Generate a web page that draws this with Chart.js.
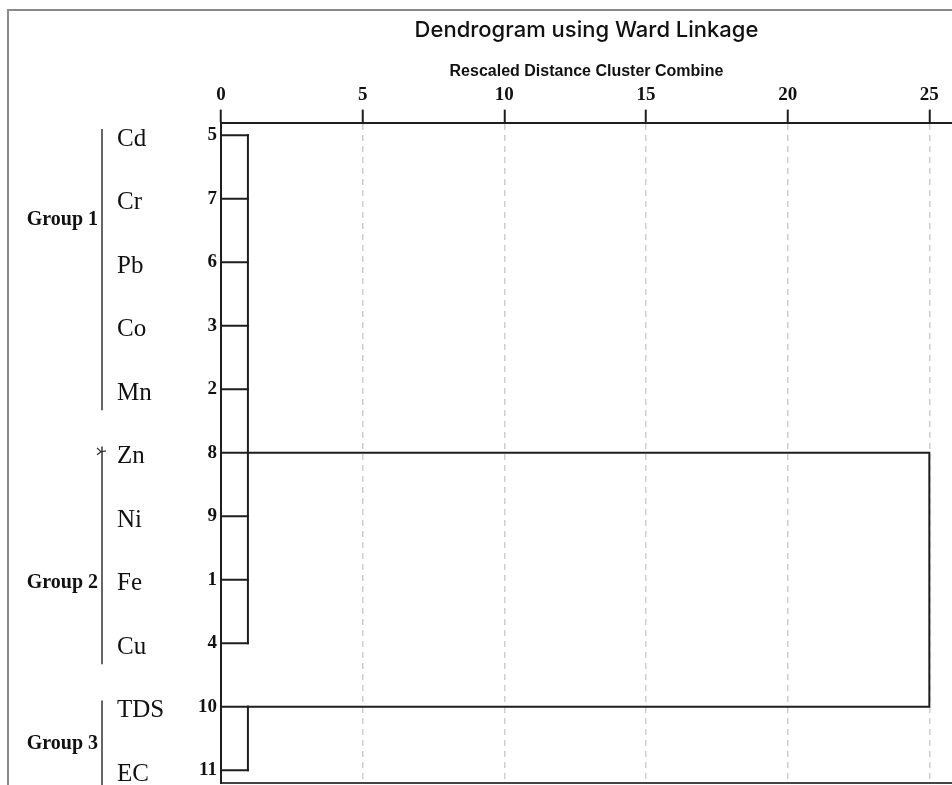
<!DOCTYPE html>
<html>
<head>
<meta charset="utf-8">
<script src="https://cdn.jsdelivr.net/npm/chart.js@4.4.1/dist/chart.umd.min.js"></script>
<style>
html, body { margin: 0; padding: 0; background: #fff; }
#wrap { width: 952px; height: 785px; }
</style>
</head>
<body>
<div id="wrap"><canvas id="dendro"></canvas></div>
<script>
// === leaves, top to bottom ===
const leafNames = ['Cd', 'Cr', 'Pb', 'Co', 'Mn', 'Zn', 'Ni', 'Fe', 'Cu', 'TDS', 'EC'];
const caseNumbers = [5, 7, 6, 3, 2, 8, 9, 1, 4, 10, 11];

// === first level clusters (rows) and rescaled distance where they join ===
const clusterFirstRow = [0, 9];
const clusterLastRow = [8, 10];
const clusterDistance = [0.95, 0.95];
const clusterLinkRow = [5, 9];     // row the cluster link leaves from
const rootDistance = 25;

// === groups marked on the left ===
const groupNames = ['Group 1', 'Group 2', 'Group 3'];
const groupFirstRow = [0, 5, 9];
const groupLastRow = [4, 8, 10];

const distanceTicks = [0, 5, 10, 15, 20, 25];

const SERIF = '"Liberation Serif", "Times New Roman", serif';
const SANS = '"Liberation Sans", Arial, sans-serif';
const INK = '#1e1e1e';

// build line pieces of the tree
const segments = [];
leafNames.forEach((name, i) => {
    const c = clusterFirstRow.findIndex((f, k) => i >= f && i <= clusterLastRow[k]);
    segments.push([{ x: 0, y: i }, { x: clusterDistance[c], y: i }]);
});
clusterFirstRow.forEach((f, k) => {
    segments.push([{ x: clusterDistance[k], y: f }, { x: clusterDistance[k], y: clusterLastRow[k] }]);
});
const lastK = clusterLinkRow.length - 1;
segments.push([
    { x: clusterDistance[0], y: clusterLinkRow[0] },
    { x: rootDistance, y: clusterLinkRow[0] },
    { x: rootDistance, y: clusterLinkRow[lastK] },
    { x: clusterDistance[lastK], y: clusterLinkRow[lastK] }
]);

const datasets = segments.map(pts => ({
    data: pts,
    showLine: true,
    pointRadius: 0,
    borderColor: INK,
    borderWidth: 2,
    borderCapStyle: 'square',
    borderJoinStyle: 'miter',
    fill: false,
    tension: 0
}));

// label positions (row units) for group names, as placed in the source
const GROUP_LABEL_AT = [1.28, 7.0, 9.53];

const sidePlugin = {
    id: 'side',
    afterDraw(chart) {
        const ctx = chart.ctx;
        const y = chart.scales.y;
        const area = chart.chartArea;
        ctx.save();

        // outer frame
        ctx.strokeStyle = '#8a8a8a';
        ctx.lineWidth = 2;
        ctx.beginPath();
        ctx.moveTo(8, chart.height);
        ctx.lineTo(8, 10);
        ctx.lineTo(chart.width, 10);
        ctx.stroke();

        // element names
        ctx.fillStyle = '#111';
        ctx.font = '25px ' + SERIF;
        ctx.textAlign = 'left';
        ctx.textBaseline = 'middle';
        leafNames.forEach((n, i) => {
            ctx.fillText(n, 117, y.getPixelForValue(i) + 4);
        });

        // group brackets and names
        ctx.strokeStyle = '#333';
        ctx.lineWidth = 1.5;
        groupNames.forEach((g, k) => {
            const top = y.getPixelForValue(groupFirstRow[k] - 0.1);
            const bot = Math.min(area.bottom + 2, y.getPixelForValue(groupLastRow[k] + 0.33));
            ctx.beginPath();
            ctx.moveTo(102, top);
            ctx.lineTo(102, bot);
            ctx.stroke();
            ctx.font = 'bold 20px ' + SERIF;
            ctx.textAlign = 'right';
            ctx.fillText(g, 98, y.getPixelForValue(GROUP_LABEL_AT[k]) + 3);
        });

        // small mark at the top of group 2
        const yz = y.getPixelForValue(groupFirstRow[1]) - 1;
        ctx.lineWidth = 1.2;
        ctx.beginPath();
        ctx.moveTo(97, yz - 4);
        ctx.lineTo(101, yz);
        ctx.lineTo(97, yz + 3);
        ctx.moveTo(101, yz);
        ctx.lineTo(106, yz - 1);
        ctx.stroke();

        ctx.restore();
    }
};

new Chart(document.getElementById('dendro').getContext('2d'), {
    type: 'scatter',
    data: { datasets: datasets },
    options: {
        responsive: true,
        maintainAspectRatio: false,
        animation: false,
        events: [],
        layout: { padding: { left: 0, right: 0, top: 0, bottom: 2 } },
        plugins: {
            legend: { display: false },
            tooltip: { enabled: false },
            title: {
                display: true,
                text: 'Dendrogram using Ward Linkage',
                fullSize: false,
                color: '#111',
                font: { family: 'Inter, ' + SANS, size: 22, weight: '500' },
                padding: { top: 17, bottom: 0 }
            },
            subtitle: {
                display: true,
                text: 'Rescaled Distance Cluster Combine',
                fullSize: false,
                color: '#111',
                font: { family: SANS, size: 16, weight: 'bold' },
                padding: { top: 19, bottom: 0 }
            }
        },
        scales: {
            x: {
                type: 'linear',
                position: 'top',
                min: 0,
                max: 25.8,
                afterBuildTicks: s => { s.ticks = distanceTicks.map(v => ({ value: v })); },
                afterFit: s => { s.height = 41; },
                ticks: {
                    color: '#111',
                    padding: 3,
                    maxRotation: 0,
                    font: { family: SERIF, size: 19, weight: 'bold' }
                },
                grid: {
                    color: '#cfcfcf',
                    lineWidth: 1.5,
                    tickColor: INK,
                    tickLength: 13,
                    tickWidth: 2,
                    tickBorderDash: []
                },
                border: { color: INK, width: 2, dash: [6, 5] }
            },
            x2: {
                type: 'linear',
                position: 'bottom',
                min: 0,
                max: 25.8,
                ticks: { display: false },
                grid: { display: false, drawTicks: false },
                border: { color: '#444', width: 2 }
            },
            y: {
                type: 'linear',
                reverse: true,
                min: -0.2,
                max: 10.2,
                afterBuildTicks: s => { s.ticks = caseNumbers.map((c, i) => ({ value: i })); },
                afterFit: s => {
                    s.width = 221;
                    s.paddingTop = 0;
                    s.paddingBottom = 0;
                },
                ticks: {
                    callback: v => caseNumbers[v],
                    color: '#111',
                    padding: 4,
                    autoSkip: false,
                    font: { family: SERIF, size: 19, weight: 'bold' }
                },
                grid: { display: false, drawTicks: false },
                border: { color: INK, width: 2 }
            }
        }
    },
    plugins: [sidePlugin]
});
</script>
</body>
</html>
